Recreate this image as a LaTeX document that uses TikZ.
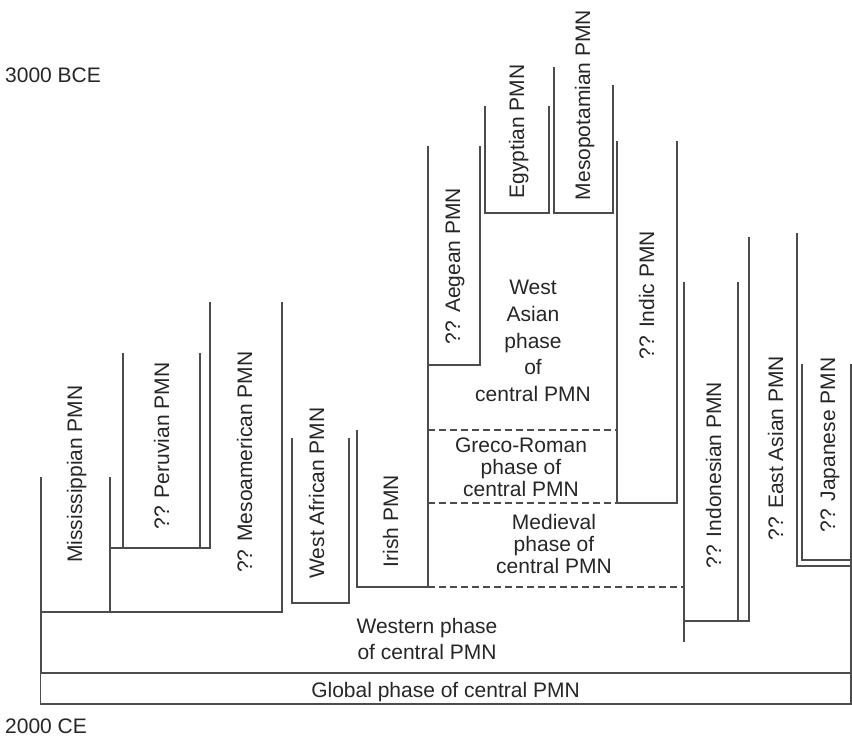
\documentclass[tikz,border=0pt]{standalone}
\usepackage{fontspec}
\setmainfont{Liberation Sans}
\newcommand\pmnfont{\fontsize{21bp}{26.7bp}\selectfont}
\begin{document}
\begin{tikzpicture}[x=1bp,y=-1bp,
  branch/.style={draw=black!70, line width=1.1bp, line join=miter},
  phaseline/.style={branch, dash pattern=on 7bp off 4bp},
  txt/.style={inner sep=0pt, text=black!85, font=\pmnfont},
  vlabel/.style={txt, rotate=90, anchor=base},
  block/.style={txt, align=center, anchor=center}
]
\useasboundingbox (0,0) rectangle (852,738);

% time axis labels
\node[txt, anchor=base west] (t3000) at (5,83) {3000 BCE};
\node[txt, anchor=base west] (t2000) at (5,733) {2000 CE};

% global phase box
\draw[branch] (40.5,673) rectangle (851,704);
\node[txt, anchor=base] (global) at (445.5,697) {Global phase of central PMN};

% western phase: American branches
\draw[branch] (41,477) -- (41,673);
\draw[branch] (110,477) -- (110,612);
\draw[branch] (41,612) -- (282,612) -- (282,302);
\draw[branch] (110,548) -- (210,548) -- (210,302);
\draw[branch] (123,353) -- (123,548);
\draw[branch] (200,353) -- (200,548);

% West African and Irish
\draw[branch] (292,438) -- (292,603) -- (349,603) -- (349,438);
\draw[branch] (357,430) -- (357,587) -- (428,587);

% central trunk, Aegean, Egyptian, Mesopotamian, Indic
\draw[branch] (428,146) -- (428,587);
\draw[branch] (428,365) -- (480,365) -- (480,146);
\draw[branch] (485,106) -- (485,213) -- (549,213) -- (549,106);
\draw[branch] (554,67) -- (554,213) -- (613,213) -- (613,85);
\draw[branch] (617,141) -- (617,503) -- (677,503) -- (677,141);

% phase boundaries of central PMN
\draw[phaseline] (428,430) -- (617,430);
\draw[phaseline] (428,503) -- (617,503);
\draw[phaseline] (428,587) -- (684,587);

% Indonesian, East Asian, Japanese
\draw[branch] (684,282) -- (684,642);
\draw[branch] (684,621) -- (749,621) -- (749,237);
\draw[branch] (738,282) -- (738,621);
\draw[branch] (797,233) -- (797,566) -- (851,566);
\draw[branch] (802,364) -- (802,560) -- (851,560);
\draw[branch] (851,364) -- (851,673);

% branch labels
\node[vlabel] (miss)   at (82,474)    {Mississippian PMN};
\node[vlabel] (peru)   at (169,446)   {?? Peruvian PMN};
\node[vlabel] (meso)   at (252,462)   {?? Mesoamerican PMN};
\node[vlabel] (wafr)   at (324,493)   {West African PMN};
\node[vlabel] (irish)  at (398,521)   {Irish PMN};
\node[vlabel] (aegean) at (460,266)   {?? Aegean PMN};
\node[vlabel] (egypt)  at (524,131.5) {Egyptian PMN};
\node[vlabel] (mesop)  at (590,105)   {Mesopotamian PMN};
\node[vlabel] (indic)  at (654,295)   {?? Indic PMN};
\node[vlabel] (indon)  at (721,475)   {?? Indonesian PMN};
\node[vlabel] (easia)  at (783,448)   {?? East Asian PMN};
\node[vlabel] (japan)  at (835,445)   {?? Japanese PMN};

% phases of central PMN
\node[block] (wasia) at (533,341)
  {West\\Asian\\phase\\of\\central PMN};
\node[block, font=\fontsize{21bp}{22bp}\selectfont] (greco) at (521,467.5)
  {Greco-Roman\\phase of\\central PMN};
\node[block, font=\fontsize{21bp}{22bp}\selectfont] (medieval) at (554,543.5)
  {Medieval\\phase of\\central PMN};
\node[block, font=\fontsize{21bp}{26bp}\selectfont] (western) at (427,638.5)
  {Western phase\\of central PMN};
\end{tikzpicture}
\end{document}
